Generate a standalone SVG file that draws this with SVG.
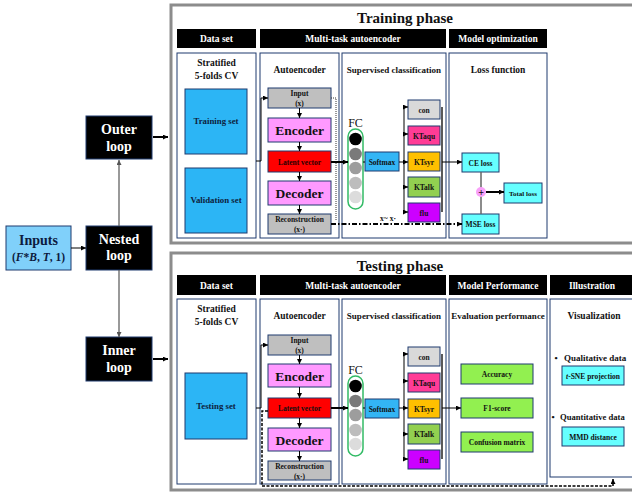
<svg xmlns="http://www.w3.org/2000/svg" width="632" height="494" viewBox="0 0 632 494">
<defs>
<marker id="a" viewBox="0 0 10 10" refX="10" refY="5" markerWidth="5" markerHeight="5" markerUnits="userSpaceOnUse" orient="auto"><path d="M0,0 L10,5 L0,10 z" fill="#000"/></marker>
<marker id="g" viewBox="0 0 10 10" refX="10" refY="5" markerWidth="5" markerHeight="5" markerUnits="userSpaceOnUse" orient="auto"><path d="M0,0 L10,5 L0,10 z" fill="#555"/></marker>
</defs>
<style>
text{font-family:"Liberation Serif","Times New Roman",serif;font-weight:bold;text-anchor:middle;fill:#111}
.phase{fill:#fff;stroke:#8c8c8c;stroke-width:3}
.col{fill:#fff;stroke:#1f3a6e;stroke-width:1}
.hdr{fill:#000}
.ht{fill:#fff;font-size:9.5px}
.sub{font-size:9.5px}
.bx{stroke:#1f3a6e;stroke-width:1}
.sm{font-size:7.5px}
.big{font-size:13.5px}
.loop{fill:#000;stroke:#1f3a6e}
.lt{fill:#fff;font-size:14px}
.ln{stroke:#000;stroke-width:1;fill:none}
.ar{stroke:#000;stroke-width:1;fill:none;marker-end:url(#a)}
.tar{stroke:#000;stroke-width:2;fill:none;marker-end:url(#a)}
.set{fill:#2cb5f5;stroke:#1f3a6e}
.st{font-size:8.8px;fill:#0d2240}
.gray{fill:#bfbfbf}.pink{fill:#ff99ff}.red{fill:#ff0000}
.cyan{fill:#66ffff}.green{fill:#92f050}
.cap{fill:#fff;stroke:#33bb66;stroke-width:1.5}
</style>

<g id="phase-boxes">
<rect class="phase" x="171" y="5" width="470" height="238"/>
<rect class="phase" x="171" y="253" width="470" height="237"/>
<text x="405" y="23" style="font-size:15px">Training phase</text>
<text x="400" y="271" style="font-size:15px">Testing phase</text>
</g>

<g id="headers">
<rect class="hdr" x="177" y="29" width="79" height="19"/><text class="ht" x="216.5" y="42">Data set</text>
<rect class="hdr" x="260" y="29" width="186" height="19"/><text class="ht" x="353" y="42">Multi-task autoencoder</text>
<rect class="hdr" x="449" y="29" width="98" height="19"/><text class="ht" x="498" y="42">Model optimization</text>
<rect class="hdr" x="177" y="275" width="79" height="20"/><text class="ht" x="216.5" y="289">Data set</text>
<rect class="hdr" x="260" y="275" width="186" height="20"/><text class="ht" x="353" y="289">Multi-task autoencoder</text>
<rect class="hdr" x="449" y="275" width="98" height="20"/><text class="ht" x="498" y="289">Model Performance</text>
<rect class="hdr" x="550" y="275" width="90" height="20"/><text class="ht" x="592" y="289">Illustration</text>
</g>

<g id="columns">
<rect class="col" x="177" y="53" width="79" height="185"/>
<rect class="col" x="260" y="53" width="79" height="185"/>
<rect class="col" x="342" y="53" width="104" height="185"/>
<rect class="col" x="449" y="53" width="98" height="185"/>
<text class="sub" x="216.5" y="66">Stratified</text>
<text class="sub" x="216.5" y="79">5-folds CV</text>
<text class="sub" x="299.5" y="73">Autoencoder</text>
<text class="sub" x="394" y="73" style="font-size:9px">Supervised classification</text>
<text class="sub" x="498" y="73">Loss function</text>
<rect class="col" x="177" y="299" width="79" height="185"/>
<rect class="col" x="260" y="299" width="79" height="185"/>
<rect class="col" x="342" y="299" width="104" height="185"/>
<rect class="col" x="449" y="299" width="98" height="185"/>
<rect class="col" x="550" y="299" width="90" height="178"/>
<text class="sub" x="216.5" y="312">Stratified</text>
<text class="sub" x="216.5" y="325">5-folds CV</text>
<text class="sub" x="299.5" y="319">Autoencoder</text>
<text class="sub" x="394" y="319" style="font-size:9px">Supervised classification</text>
<text class="sub" x="498" y="319" style="font-size:9px">Evaluation performance</text>
<text class="sub" x="594" y="319">Visualization</text>
</g>

<g id="inputs"><rect x="6" y="226" width="65" height="44" fill="#80d0fa" stroke="#1f3a6e"/>
<text x="38.5" y="245" style="font-size:14px;fill:#0d1b3e">Inputs</text>
<text x="38.5" y="261" style="font-size:11.5px;fill:#0d1b3e">(<tspan font-style="italic">F</tspan>*<tspan font-style="italic">B</tspan>, <tspan font-style="italic">T</tspan>, 1)</text></g>
<g id="outer-loop"><rect class="loop" x="86" y="116" width="66" height="43"/><text class="lt" x="119" y="134">Outer</text><text class="lt" x="119" y="151">loop</text></g>
<g id="nested-loop"><rect class="loop" x="86" y="226" width="66" height="44"/><text class="lt" x="119" y="244">Nested</text><text class="lt" x="119" y="260">loop</text></g>
<g id="inner-loop"><rect class="loop" x="86" y="337" width="66" height="44"/><text class="lt" x="119" y="355">Inner</text><text class="lt" x="119" y="372">loop</text></g>

<g id="training-set"><rect class="set" x="185" y="89" width="62" height="65"/><text class="st" x="216" y="124">Training set</text></g>
<g id="validation-set"><rect class="set" x="185" y="168" width="62" height="65"/><text class="st" x="216" y="203">Validation set</text></g>
<g id="testing-set"><rect class="set" x="185" y="373" width="62" height="66"/><text class="st" x="216" y="409">Testing set</text></g>

<g id="train-ae">
<rect class="bx gray" x="268" y="88" width="63" height="20"/><text class="sm" x="299.5" y="96">Input</text><text class="sm" x="299.5" y="106">(x)</text>
<rect class="bx pink" x="268" y="118" width="63" height="24"/><text class="big" x="299.5" y="135">Encoder</text>
<rect class="bx red" x="268" y="151" width="63" height="21"/><text class="sm" x="299.5" y="164.5" style="fill:#2a0000">Latent vector</text>
<rect class="bx pink" x="268" y="181" width="63" height="24"/><text class="big" x="299.5" y="198">Decoder</text>
<rect class="bx gray" x="268" y="214" width="63" height="20"/><text class="sm" x="299.5" y="222">Reconstruction</text><text class="sm" x="299.5" y="232">(x·)</text>
</g>
<g id="test-ae">
<rect class="bx gray" x="268" y="335" width="63" height="20"/><text class="sm" x="299.5" y="343">Input</text><text class="sm" x="299.5" y="353">(x)</text>
<rect class="bx pink" x="268" y="364" width="63" height="23"/><text class="big" x="299.5" y="381">Encoder</text>
<rect class="bx red" x="268" y="398" width="63" height="20"/><text class="sm" x="299.5" y="411">Latent vector</text>
<rect class="bx pink" x="268" y="428" width="63" height="23"/><text class="big" x="299.5" y="445">Decoder</text>
<rect class="bx gray" x="268" y="461" width="63" height="19"/><text class="sm" x="299.5" y="469">Reconstruction</text><text class="sm" x="299.5" y="479">(x·)</text>
</g>

<g id="train-fc">
<text x="355.5" y="127" style="font-weight:normal;font-size:12px">FC</text>
<rect class="cap" x="348" y="129" width="15" height="80" rx="7.5"/>
<circle cx="355.5" cy="139" r="6.3" fill="#000"/>
<circle cx="355.5" cy="154" r="6.3" fill="#7a7a7a"/>
<circle cx="355.5" cy="168" r="6.3" fill="#9d9d9d"/>
<circle cx="355.5" cy="183" r="6.3" fill="#bdbdbd"/>
<circle cx="355.5" cy="197" r="6.3" fill="#dcdcdc"/>
</g>
<g id="test-fc">
<text x="355.5" y="374" style="font-weight:normal;font-size:12px">FC</text>
<rect class="cap" x="348" y="376" width="15" height="80" rx="7.5"/>
<circle cx="355.5" cy="386" r="6.3" fill="#000"/>
<circle cx="355.5" cy="401" r="6.3" fill="#7a7a7a"/>
<circle cx="355.5" cy="415" r="6.3" fill="#9d9d9d"/>
<circle cx="355.5" cy="430" r="6.3" fill="#bdbdbd"/>
<circle cx="355.5" cy="444" r="6.3" fill="#dcdcdc"/>
</g>

<g id="train-classes">
<rect class="bx" x="365" y="152" width="34" height="19" fill="#33b5f5"/><text class="sm" x="382" y="164.5">Softmax</text>
<rect class="bx" x="408" y="100" width="32" height="19" fill="#d9d9d9"/><text class="sm" x="424" y="112.5">con</text>
<rect class="bx" x="408" y="126" width="32" height="19" fill="#ff3c96"/><text class="sm" x="424" y="138.5">KTaqu</text>
<rect class="bx" x="408" y="152" width="32" height="19" fill="#ffc000"/><text class="sm" x="424" y="164.5">KTsyr</text>
<rect class="bx" x="408" y="177" width="32" height="20" fill="#92d050"/><text class="sm" x="424" y="190">KTalk</text>
<rect class="bx" x="408" y="203" width="32" height="19" fill="#cc00ff"/><text class="sm" x="424" y="215.5">flu</text>
</g>
<g id="test-classes">
<rect class="bx" x="365" y="399" width="34" height="19" fill="#33b5f5"/><text class="sm" x="382" y="411.5">Softmax</text>
<rect class="bx" x="408" y="347" width="32" height="19" fill="#d9d9d9"/><text class="sm" x="424" y="359.5">con</text>
<rect class="bx" x="408" y="373" width="32" height="19" fill="#ff3c96"/><text class="sm" x="424" y="385.5">KTaqu</text>
<rect class="bx" x="408" y="399" width="32" height="19" fill="#ffc000"/><text class="sm" x="424" y="411.5">KTsyr</text>
<rect class="bx" x="408" y="424" width="32" height="20" fill="#92d050"/><text class="sm" x="424" y="437">KTalk</text>
<rect class="bx" x="408" y="450" width="32" height="19" fill="#cc00ff"/><text class="sm" x="424" y="462.5">flu</text>
</g>

<g id="loss">
<rect class="bx cyan" x="462" y="153" width="37" height="19"/><text class="sm" x="480.5" y="165.5">CE loss</text>
<rect class="bx cyan" x="462" y="214" width="37" height="20"/><text class="sm" x="480.5" y="227">MSE loss</text>
<rect class="bx cyan" x="504" y="183" width="38" height="20"/><text class="sm" x="523" y="195.5" style="font-size:7px">Total loss</text>
</g>

<g id="eval">
<rect class="bx green" x="461" y="364" width="72" height="20"/><text class="sm" x="497" y="376.5">Accuracy</text>
<rect class="bx green" x="461" y="398" width="72" height="20"/><text class="sm" x="497" y="410.5">F1-score</text>
<rect class="bx green" x="461" y="432" width="72" height="20"/><text class="sm" x="497" y="444.5">Confusion matrix</text>
</g>

<g id="vis">
<text x="556" y="361" style="font-size:9px">•</text><text x="564" y="361" style="font-size:9px;text-anchor:start">Qualitative data</text>
<rect class="bx cyan" x="562" y="366" width="62" height="19"/><text class="sm" x="593" y="378.5"><tspan font-style="italic">t</tspan>-SNE projection</text>
<text x="553" y="420" style="font-size:9px">•</text><text x="560" y="420" style="font-size:8.6px;text-anchor:start">Quantitative data</text>
<rect class="bx cyan" x="562" y="427" width="62" height="19"/><text class="sm" x="593" y="439.5">MMD distance</text>
</g>

<g id="connectors">
<line class="ar" x1="71" y1="248" x2="86" y2="248"/>
<line x1="119" y1="226" x2="119" y2="160" stroke="#555" stroke-width="1.2" marker-end="url(#g)"/>
<line x1="119" y1="270" x2="119" y2="337" stroke="#555" stroke-width="1.2" marker-end="url(#g)"/>
<line class="tar" x1="153" y1="137" x2="168" y2="137"/>
<line class="tar" x1="153" y1="359" x2="168" y2="359"/>

<polyline class="ar" points="256,161 261,161 261,98 268,98"/>
<line class="ar" x1="299.5" y1="108" x2="299.5" y2="118"/>
<line class="ar" x1="299.5" y1="142" x2="299.5" y2="151"/>
<line class="ar" x1="299.5" y1="172" x2="299.5" y2="181"/>
<line class="ar" x1="299.5" y1="205" x2="299.5" y2="214"/>
<polyline points="331,98 336,98 336,221" fill="none" stroke="#333" stroke-width="1" stroke-dasharray="1,1"/>
<line x1="331" y1="224" x2="462" y2="224" stroke="#000" stroke-width="2" stroke-dasharray="5,2,1.5,2" marker-end="url(#a)"/>
<text class="sm" x="388" y="221">x~ x·</text>
<line class="tar" x1="331" y1="162" x2="348" y2="162"/>
<line class="ln" x1="363" y1="162" x2="365" y2="162"/>
<line class="ln" x1="399" y1="162" x2="404" y2="162"/>
<line class="ln" x1="404" y1="107" x2="404" y2="212"/>
<line class="ar" x1="404" y1="107" x2="408" y2="107"/>
<line class="ar" x1="404" y1="134" x2="408" y2="134"/>
<line class="ar" x1="404" y1="162" x2="408" y2="162"/>
<line class="ar" x1="404" y1="187" x2="408" y2="187"/>
<line class="ar" x1="404" y1="212" x2="408" y2="212"/>
<line x1="442" y1="107" x2="442" y2="212" stroke="#000" stroke-width="1.3"/>
<line class="ar" x1="442" y1="162" x2="462" y2="162"/>
<line x1="481" y1="172" x2="481" y2="214" stroke="#666" stroke-width="1.5"/>
<circle cx="481" cy="192" r="5" fill="#f9a0f9"/>
<text x="481" y="195.5" style="font-size:10px">+</text>
<line class="tar" x1="486" y1="192" x2="504" y2="192"/>

<polyline class="ar" points="256,408 261,408 261,345 268,345"/>
<line class="ar" x1="299.5" y1="355" x2="299.5" y2="364"/>
<line class="ar" x1="299.5" y1="387" x2="299.5" y2="398"/>
<line class="ar" x1="299.5" y1="418" x2="299.5" y2="428"/>
<line class="ar" x1="299.5" y1="451" x2="299.5" y2="461"/>
<polyline points="268,411 262,411 262,486 613,486 613,479" fill="none" stroke="#000" stroke-width="1.5" stroke-dasharray="3,1.5" marker-end="url(#a)"/>
<line class="tar" x1="331" y1="408" x2="348" y2="408"/>
<line class="ln" x1="363" y1="408" x2="365" y2="408"/>
<line class="ln" x1="399" y1="408" x2="404" y2="408"/>
<line class="ln" x1="404" y1="354" x2="404" y2="459"/>
<line class="ar" x1="404" y1="354" x2="408" y2="354"/>
<line class="ar" x1="404" y1="381" x2="408" y2="381"/>
<line class="ar" x1="404" y1="408" x2="408" y2="408"/>
<line class="ar" x1="404" y1="434" x2="408" y2="434"/>
<line class="ar" x1="404" y1="459" x2="408" y2="459"/>
<line x1="442" y1="354" x2="442" y2="459" stroke="#000" stroke-width="1.3"/>
<line class="ar" x1="442" y1="408" x2="461" y2="408"/>
</g>
</svg>
